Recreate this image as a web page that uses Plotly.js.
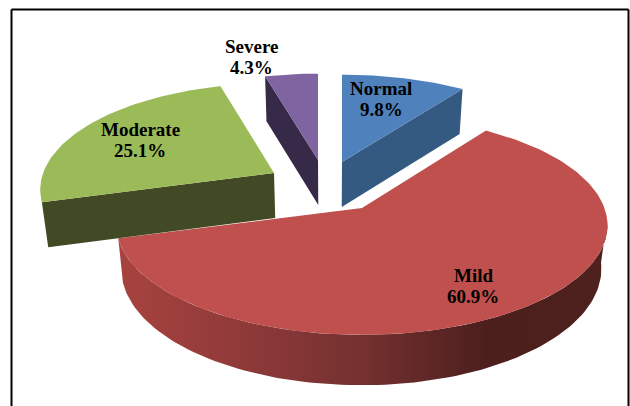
<!DOCTYPE html>
<html>
<head>
<meta charset="utf-8">
<script src="https://cdn.plot.ly/plotly-3.0.1.min.js"></script>
<style>html,body{margin:0;padding:0;background:#fff}#chart{width:630px;height:406px}</style>
</head>
<body>
<div id="chart"></div>
<script>
// Data (clockwise from 12 o'clock)
const categories = ["Normal", "Mild", "Moderate", "Severe"];
const percents = [9.8, 60.9, 25.1, 4.3];
const topColors = ["#4f81bd", "#c0504d", "#9bbb59", "#8064a2"];
const wallColors = ["#355a81", "#7a3333", "#414a24", "#362a48"];

// Projection of the exploded disc on the flat page axes
const RX = 240.5, RY = 108, PERSP = 0.157, DEPTH = 45, VANISH = 330, SHRINK = 0.022;
const placement = {
  Normal:   {ax: 342, ay: 162, sx: 0.98, sy: 0.935},
  Mild:     {ax: 362, ay: 208, sx: 1.008, sy: 0.99},
  Moderate: {ax: 274, ay: 173, sx: 0.96, sy: 0.96},
  Severe:   {ax: 318, ay: 160, sx: 0.95, sy: 0.925}
};
const labelAt = {
  Normal: [381, 98.5], Mild: [473, 285.5], Moderate: [140, 139.5], Severe: [251, 56.5]
};
const LINE_GAP = 10.5;

const total = percents.reduce((a, b) => a + b, 0);
let run = 0;
const spans = {};
categories.forEach((c, i) => {
  spans[c] = [run / total * 360, (run + percents[i]) / total * 360];
  run += percents[i];
});

function rim(name, deg) {
  const p = placement[name], t = deg * Math.PI / 180;
  const u = Math.sin(t), v = Math.cos(t), s = 1 / (1 + PERSP * v);
  return [p.ax + p.sx * RX * u * s, p.ay - p.sy * RY * v * s];
}
function apex(name) { return [placement[name].ax, placement[name].ay]; }
function drop(pt, d) { return [pt[0] + (VANISH - pt[0]) * SHRINK, pt[1] + d]; }
function arc(name, a, b) {
  const out = [], n = Math.max(8, Math.ceil(Math.abs(b - a) / 1.5));
  for (let k = 0; k <= n; k++) out.push(rim(name, a + (b - a) * k / n));
  return out;
}
function poly(name, pts, color, extra) {
  const pct = percents[categories.indexOf(name)];
  return Object.assign({
    type: "scatter", mode: "lines", name: name,
    x: pts.map(q => q[0]).concat([pts[0][0]]),
    y: pts.map(q => q[1]).concat([pts[0][1]]),
    fill: "toself", fillcolor: color, line: {width: 0, color: color},
    hoverinfo: "text", text: name + ": " + pct + "%", showlegend: false
  }, extra || {});
}
function topFace(name) {
  const s = spans[name], c = topColors[categories.indexOf(name)];
  return poly(name, [apex(name)].concat(arc(name, s[0], s[1])), c);
}
function cutWall(name, edgeDeg) {
  const a = apex(name), e = rim(name, edgeDeg), c = wallColors[categories.indexOf(name)];
  return poly(name, [a, e, drop(e, DEPTH), drop(a, DEPTH)], c);
}
function outerWall(name, from, to) {
  const a = arc(name, from, to);
  const b = a.map((q, k) => {
    const deg = from + (to - from) * k / (a.length - 1);
    const s = 1 / (1 + PERSP * Math.cos(deg * Math.PI / 180));
    return drop(q, (DEPTH - 2.5) * s);
  }).reverse();
  return poly(name, a.concat(b), wallColors[categories.indexOf(name)], {
    fillgradient: {
      type: "horizontal",
      colorscale: [[0, "#a8433f"], [0.25, "#8f3a39"], [0.5, "#743130"], [0.75, "#4c1f1d"], [1, "#4e201e"]]
    }
  });
}

const traces = [
  outerWall("Mild", 96, spans.Mild[1]),
  topFace("Mild"),
  cutWall("Moderate", spans.Moderate[0]),
  topFace("Moderate"),
  cutWall("Severe", spans.Severe[0]),
  topFace("Severe"),
  cutWall("Normal", spans.Normal[1]),
  topFace("Normal")
];

const labelFont = {family: "'Liberation Serif', serif", size: 19, color: "#000"};
const oneLabel = (x, y, text) => ({
  x, y, xref: "x", yref: "y", text: "<b>" + text + "</b>",
  showarrow: false, xanchor: "center", yanchor: "middle", align: "center", font: labelFont
});
const annotations = categories.flatMap((c, i) => [
  oneLabel(labelAt[c][0], labelAt[c][1] - LINE_GAP, c),
  oneLabel(labelAt[c][0], labelAt[c][1] + LINE_GAP, percents[i].toFixed(1) + "%")
]);

const border = (x0, y0, x1, y1) => ({
  type: "line", xref: "x", yref: "y", x0, y0, x1, y1, line: {color: "#000", width: 2}
});

Plotly.newPlot("chart", traces, {
  width: 630, height: 406,
  margin: {l: 0, r: 0, t: 0, b: 0, pad: 0},
  paper_bgcolor: "#fff", plot_bgcolor: "#fff",
  showlegend: false, hovermode: "closest",
  xaxis: {range: [0, 630], visible: false, fixedrange: true},
  yaxis: {range: [406, 0], visible: false, fixedrange: true},
  annotations: annotations,
  shapes: [border(11.5, 9.5, 628.5, 9.5), border(11.5, 9.5, 11.5, 406), border(628.5, 9.5, 628.5, 406)]
}, {staticPlot: false, displayModeBar: false});
</script>
</body>
</html>
